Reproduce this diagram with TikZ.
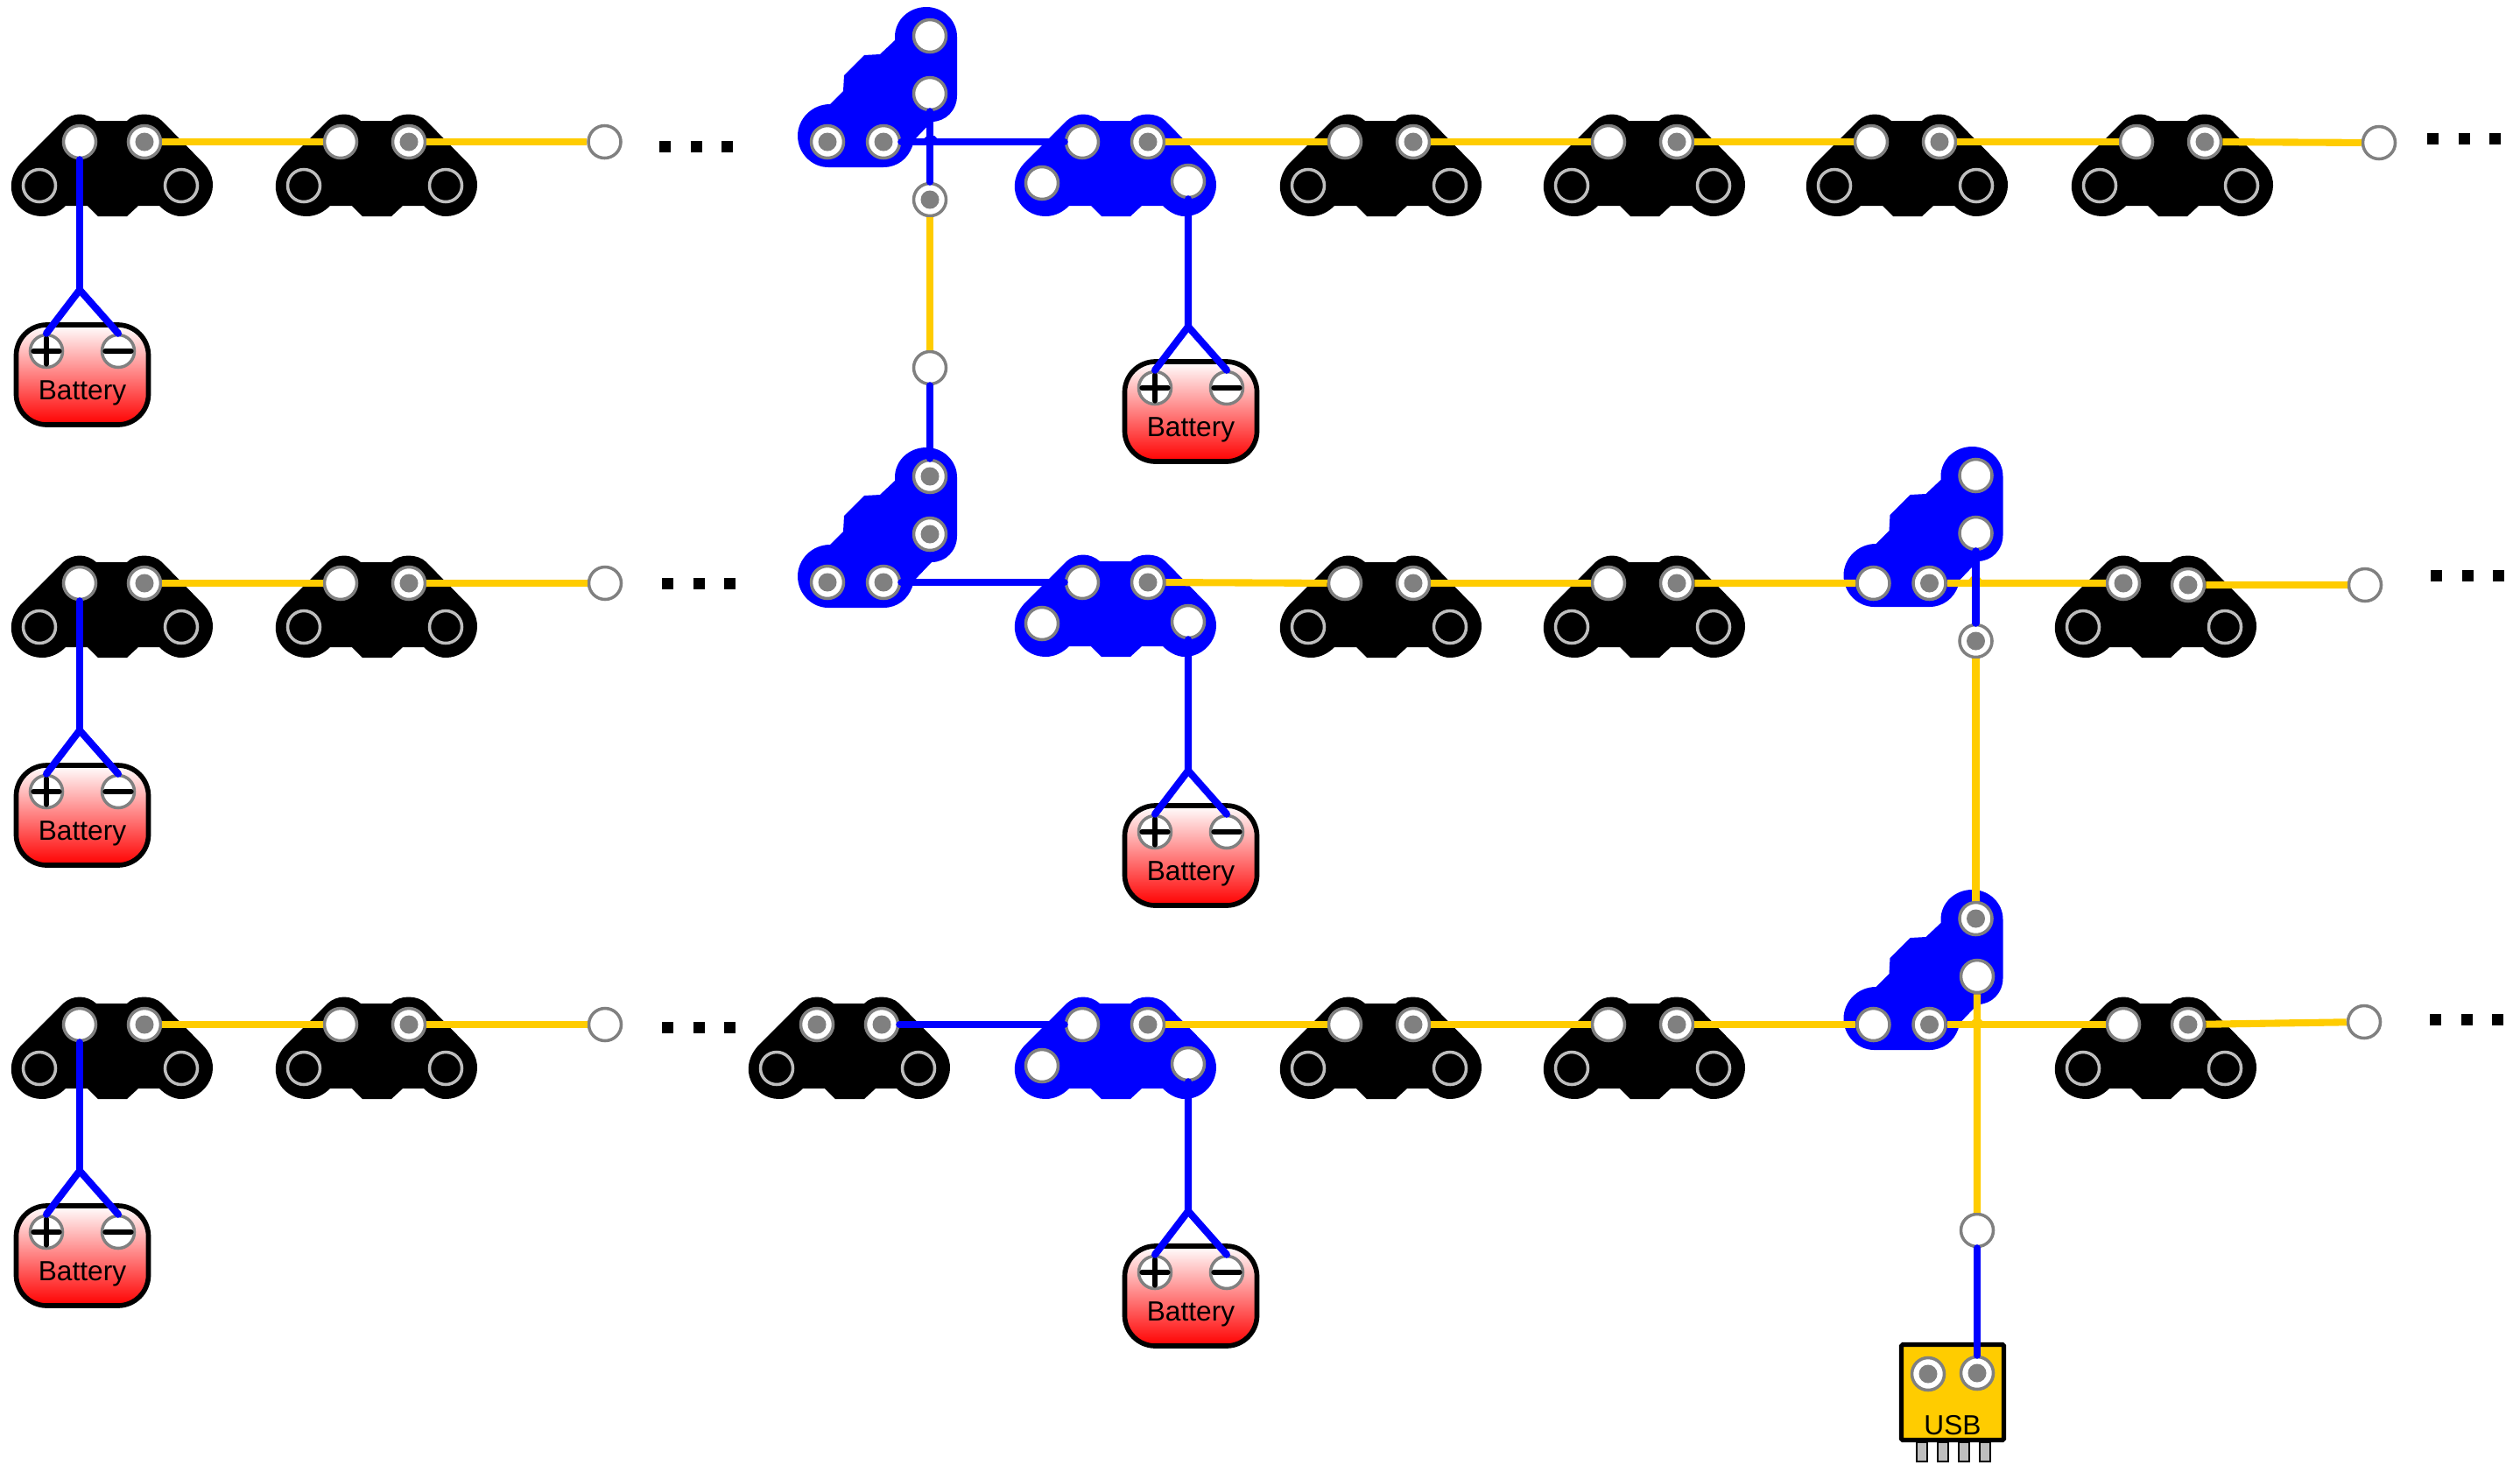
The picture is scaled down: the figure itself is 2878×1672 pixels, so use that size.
\documentclass[tikz,border=0pt]{standalone}
\usepackage{fontspec}
\setmainfont{Liberation Sans}
\usetikzlibrary{calc,positioning}
\definecolor{wireyellow}{HTML}{FFCC00}
\definecolor{padgray}{HTML}{808080}
\definecolor{ringgray}{HTML}{BEBEBE}
\begin{document}
\begin{tikzpicture}[x=0.01cm,y=-0.01cm]
%
% Styles
%
\tikzset{every node/.style={font=\fontsize{9}{10}\selectfont}};%
\tikzset{pad/.style={circle, draw=padgray, fill=white, line width=1pt, minimum size=0.37cm, inner sep=0pt}};%
\tikzset{dotpad/.style={pad, path picture={\fill[padgray] (path picture bounding box.center) circle[radius=0.105cm];}}};%
\tikzset{openpad/.style={pad, draw=ringgray, fill=none}};%
\tikzset{tlpad/.style={pad}};%
\tikzset{trpad/.style={dotpad}};%
\tikzset{blpad/.style={openpad}};%
\tikzset{brpad/.style={openpad}};%
\tikzset{elapad/.style={pad}};%
\tikzset{elbpad/.style={pad}};%
\tikzset{elcpad/.style={dotpad}};%
\tikzset{eldpad/.style={dotpad}};%
\tikzset{blueline/.style={blue, line width=2.3pt, line cap=round}};%
\tikzset{yellowline/.style={wireyellow, line width=2.3pt}};%
\tikzset{etc/.style={line width=3.7pt, dash pattern=on 3.7pt off 6.4pt}};%
\tikzset{sign/.style={line width=1.5pt, line cap=round}};%
\tikzset{prong/.style={draw, fill=ringgray, line width=0.5pt, minimum width=0.12cm, minimum height=0.22cm, inner sep=0pt}};%
%
% Boards
%
\tikzset{flat/.pic={%
    \fill[#1] (-19,-24) .. controls (-8,-34) and (8,-34) .. (19,-24) -- (54,-24)
        .. controls (63,-34) and (84,-34) .. (94,-24) -- (142,25)
        .. controls (165,50) and (145,85) .. (116,85) .. controls (106,85) and (97,79) .. (91,73)
        -- (67,73) -- (54,85) -- (21,85) -- (9,73) -- (-16,73)
        .. controls (-22,79) and (-31,85) .. (-43,85) .. controls (-73,85) and (-92,50) .. (-66,23) -- cycle;%
    \node[tlpad] (-tl) at (0,0) {};%
    \node[trpad] (-tr) at (74,0) {};%
    \node[blpad] (-bl) at (-46,50) {};%
    \node[brpad] (-br) at (116,50) {};%
}};%
\tikzset{elbow/.pic={%
    \fill[blue] (-40,1) .. controls (-40,-18) and (-24,-33) .. (-4,-33) .. controls (15,-33) and (31,-18) .. (31,1)
        -- (31,68) .. controls (31,85) and (18,98) .. (2,98) -- (-19,120) -- (-20,126)
        .. controls (-25,140) and (-37,150) .. (-53,150) -- (-116,150)
        .. controls (-135,150) and (-151,134) .. (-151,114) .. controls (-151,95) and (-135,78) .. (-114,78)
        -- (-99,63) -- (-98,45) -- (-75,22) -- (-57,21) -- (-40,5) -- cycle;%
    \node[elapad] (-a) at (0,0) {};%
    \node[elbpad] (-b) at (0,66) {};%
    \node[elcpad] (-c) at (-117,121) {};%
    \node[eldpad] (-d) at (-53,121) {};%
}};%
\tikzset{battery/.pic={%
    \node[draw, line width=1.6pt, rounded corners=0.35cm, top color=white, bottom color=red,
        minimum width=1.51cm, minimum height=1.14cm] (-body) at (0,0) {};%
    \node[pad] (-p) at (-41,-27) {};%
    \node[pad] (-m) at (41,-27) {};%
    \draw[sign] (-p.center) ++(-15,0) -- ++(30,0);%
    \draw[sign] (-p.center) ++(0,-15) -- ++(0,30);%
    \draw[sign] (-m.center) ++(-15,0) -- ++(30,0);%
    \node[inner sep=0pt] (-label) at (0,21) {Battery};%
    \coordinate (-fork) at (-3,-97);%
}};%
\useasboundingbox (0,0) rectangle (2878,1672);%
%
% Boards of the three rows
%
\foreach \name/\x/\y in {aa/91/162,ba/91/666,ca/91/1170,cf/2425/1170}
    \pic (\name) at (\x,\y) {flat=black};%
\foreach \name/\x/\y in {ab/393/162,ad/1540/162,ae/1841/162,af/2141/162,ag/2444/162,
                         bb/393/666,bd/1540/666,be/1841/666,
                         cb/393/1170,cd/1540/1170,ce/1841/1170}
    \pic[tlpad/.style={pad, xshift=-0.04cm}] (\name) at (\x,\y) {flat=black};%
\foreach \name/\x/\y in {ac/1237/162,bc/1237/665,cc/1237/1170}
    \pic[tlpad/.style={pad, xshift=-0.01cm}, blpad/.style={pad, xshift=-0.01cm, yshift=0.03cm},
         brpad/.style={pad, xshift=0.04cm, yshift=0.05cm}] (\name) at (\x,\y) {flat=blue};%
\pic[tlpad/.style={dotpad}, trpad/.style={dotpad, yshift=-0.02cm}] (bf) at (2425,666) {flat=black};%
\pic[tlpad/.style={dotpad}] (cz) at (933,1170) {flat=black};%
\pic (ez) at (1062,41) {elbow};%
\pic[elapad/.style={dotpad}, elbpad/.style={dotpad}] (ey) at (1062,544) {elbow};%
\pic[elcpad/.style={pad, yshift=-0.02cm}, eldpad/.style={dotpad, yshift=-0.02cm}] (ex) at (2256.5,543) {elbow};%
\pic[elapad/.style={dotpad}, elbpad/.style={pad, xshift=0.015cm}, elcpad/.style={pad}] (ew) at (2256.5,1049) {elbow};%
%
% Batteries
%
\foreach \name/\x/\y in {pa/94/428,pb/94/931,pc/94/1434,pd/1360/470,pe/1360/977,pf/1360/1480}
    \pic (\name) at (\x,\y) {battery};%
%
% Loose ends
%
\foreach \name/\x/\y in {ta/690.5/162,tb/2717/163,tc/691/666,td/2701/668,te/691/1170,tf/2700/1167,vb/1062/420,vd/2258/1405}
    \node[pad] (\name) at (\x,\y) {};%
\node[dotpad] (va) at (1062,228) {};%
\node[dotpad] (vc) at (2256.5,732) {};%
%
% USB
%
\foreach \x in {2195,2219,2243,2267}
    \node[prong, anchor=north] (prong\x) at (\x,1646) {};%
\node[draw, line width=1.5pt, rounded corners=0.5pt, fill=wireyellow, minimum width=1.17cm, minimum height=1.09cm] (usb) at (2230,1590) {};%
\node[dotpad] (usbl) at (2202,1569) {};%
\node[dotpad] (usbr) at (2258,1568) {};%
\node[inner sep=0pt] (usbtext) at (2230,1628) {USB};%
%
% Small bumps where the lines cross
%
\coordinate (xa) at (1063,161);%
\coordinate (xb) at (2256,666);%
\coordinate (xc) at (2258,1170);%
\fill[blue] (xa) ++(-13,2) -- ++(9,-8) -- ++(8,0) -- ++(8,8) -- cycle;%
\fill[wireyellow] (xb) ++(-13,2) -- ++(9,-10) -- ++(8,0) -- ++(8,10) -- cycle;%
\fill[wireyellow] (xc) ++(-13,2) -- ++(9,-8) -- ++(8,0) -- ++(8,8) -- cycle;%
%
% Lines
%
\foreach \from/\to in {aa-tr/ab-tl,ab-tr/ta,ac-tr/ad-tl,ad-tr/ae-tl,ae-tr/af-tl,af-tr/ag-tl,ag-tr/tb,
                       va/vb,vc/ew-a,
                       ba-tr/bb-tl,bb-tr/tc,bc-tr/bd-tl,bd-tr/be-tl,be-tr/ex-c,ex-d/bf-tl,bf-tr/td,
                       ca-tr/cb-tl,cb-tr/te,cc-tr/cd-tl,cd-tr/ce-tl,ce-tr/ew-c,ew-d/cf-tl,cf-tr/tf,
                       ew-b/vd}
    \draw[yellowline] (\from) -- (\to);%
\foreach \from/\to in {ez-d/ac-tl,ez-b/va,vb/ey-a,ey-d/bc-tl,ex-b/vc,cz-tr/cc-tl,vd/usbr}
    \draw[blueline] (\from) -- (\to);%
\foreach \top/\bat in {aa-tl/pa,ba-tl/pb,ca-tl/pc,ac-br/pd,bc-br/pe,cc-br/pf}{
    \draw[blueline] (\top) -- (\bat-fork);%
    \draw[blueline] (\bat-p.north) -- (\bat-fork) -- (\bat-m.north);%
}
%
% Dots
%
\draw[etc] (753,167) -- ++(84,0);%
\draw[etc] (756,666) -- ++(84,0);%
\draw[etc] (756,1173) -- ++(84,0);%
\draw[etc] (2772,158) -- ++(84,0);%
\draw[etc] (2776,657) -- ++(84,0);%
\draw[etc] (2775,1164) -- ++(84,0);%
\end{tikzpicture}
\end{document}
